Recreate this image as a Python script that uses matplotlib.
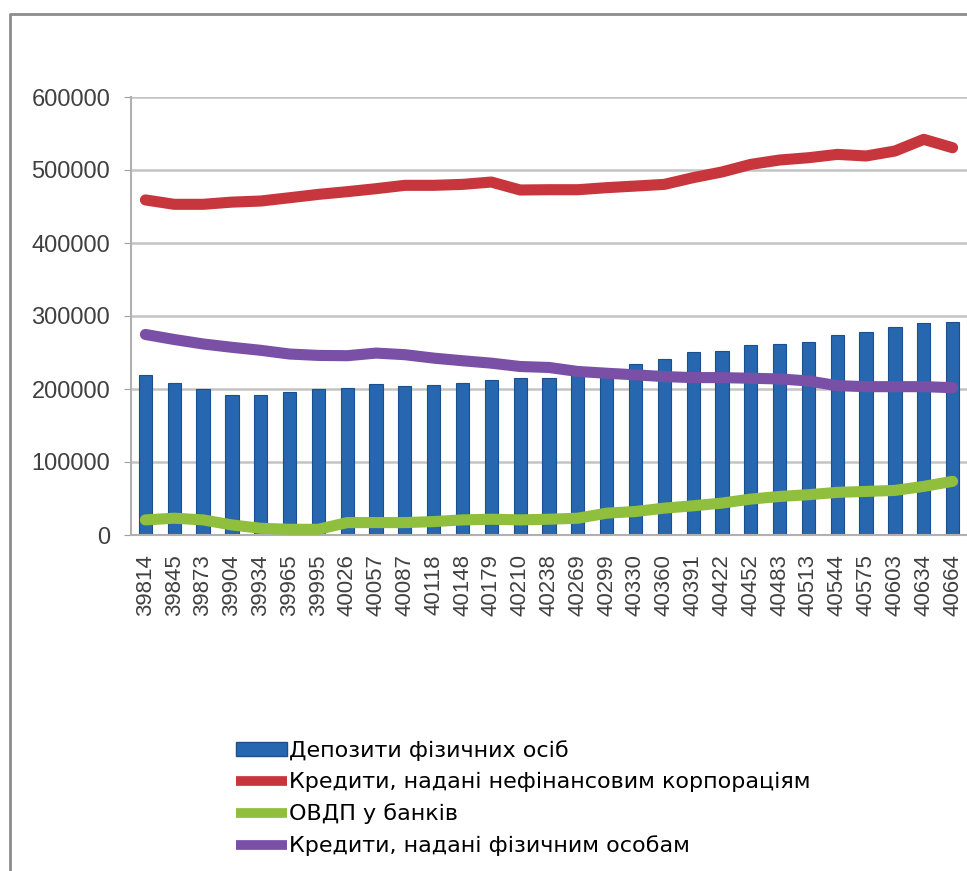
import matplotlib.pyplot as plt
from matplotlib.lines import Line2D
from matplotlib.patches import Patch

# Dates as Excel serial numbers (as shown on the axis)
dates = ['39814', '39845', '39873', '39904', '39934', '39965', '39995', '40026',
         '40057', '40087', '40118', '40148', '40179', '40210', '40238', '40269',
         '40299', '40330', '40360', '40391', '40422', '40452', '40483', '40513',
         '40544', '40575', '40603', '40634', '40664']

deposits = [219000, 208700, 200000, 191700, 191700, 195300, 200000, 201800,
            206300, 203600, 205500, 208700, 212400, 214600, 215600, 223000,
            226000, 234500, 241400, 250500, 252400, 259700, 262000, 264300,
            273500, 278000, 284500, 291000, 292000]

corp_loans = [459000, 453000, 453000, 456000, 457500, 462000, 466600, 470300,
              474400, 479000, 479000, 480300, 483500, 472600, 473000, 473000,
              475800, 478000, 480300, 489500, 497300, 507700, 513700, 516800,
              521400, 519200, 526000, 542000, 530500]

ovdp = [20700, 23000, 20700, 13800, 9200, 7800, 7800, 17000, 17000, 17000,
        18400, 20700, 21600, 20700, 21600, 23000, 29900, 32200, 36800, 40000,
        43700, 49200, 52800, 55200, 58400, 59700, 61100, 66600, 73500]

person_loans = [274700, 267800, 261700, 257100, 253000, 247900, 246000, 245600,
                249200, 247000, 242300, 238700, 235400, 230800, 229500, 224000,
                221600, 219400, 217000, 215600, 215600, 214700, 213800, 211000,
                204600, 203200, 203200, 203200, 201800]

labels = ['Депозити фізичних осіб',
          'Кредити, надані нефінансовим корпораціям',
          'ОВДП у банків',
          'Кредити, надані фізичним особам']

bar_color = '#2767b0'
line_colors = ['#c8363d', '#8fbf3c', '#7a4fa6']

plt.rcParams['font.family'] = ['Liberation Sans', 'DejaVu Sans']

fig = plt.figure(figsize=(9.67, 8.71), dpi=100)
ax = fig.add_axes([131 / 967, 1 - 535 / 871, 1 - 131 / 967, (535 - 97) / 871])

x = range(len(dates))
ax.bar(x, deposits, width=0.46, color=bar_color, edgecolor='#1c4f8e',
       linewidth=0.8, zorder=2)
for series, col in zip([corp_loans, ovdp, person_loans], line_colors):
    ax.plot(x, series, color=col, lw=8, solid_capstyle='round',
            solid_joinstyle='round', zorder=3)

ax.set_xlim(-0.5, len(dates) - 0.5)
ax.set_ylim(0, 600000)
ax.set_yticks(range(0, 600001, 100000))
ax.set_yticklabels([str(v) for v in range(0, 600001, 100000)],
                   fontsize=17, color='#404040')
ax.set_xticks(list(x))
ax.set_xticklabels(dates, rotation=90, fontsize=16, color='#404040')
ax.tick_params(axis='x', length=0, pad=14)
ax.tick_params(axis='y', length=5, color='#a0a0a0', pad=10)

ax.grid(axis='y', color='#c4c4c4', lw=1.8, zorder=0)
ax.set_axisbelow(True)
for s in ['top', 'right']:
    ax.spines[s].set_visible(False)
for s in ['left', 'bottom']:
    ax.spines[s].set_color('#b0b0b0')
    ax.spines[s].set_linewidth(1.5)

handles = [Patch(facecolor=bar_color, edgecolor='#1c4f8e')]
handles += [Line2D([], [], color=c, lw=7, solid_capstyle='butt') for c in line_colors]
fig.legend(handles, labels, loc='upper left',
           bbox_to_anchor=(236 / 967, 1 - 740 / 871),
           frameon=False, fontsize=16,
           prop={'family': ['DejaVu Sans'], 'size': 16},
           handlelength=2.3, handleheight=0.6, handletextpad=0.1,
           labelspacing=0.5, borderaxespad=0, borderpad=0)

# outer chart frame (left and top edges visible)
fig.add_artist(Line2D([10 / 967, 10 / 967, 1], [0, 1 - 14 / 871, 1 - 14 / 871],
                      transform=fig.transFigure, color='#8c8c8c', lw=2))

fig.savefig('out.png', dpi=100)
